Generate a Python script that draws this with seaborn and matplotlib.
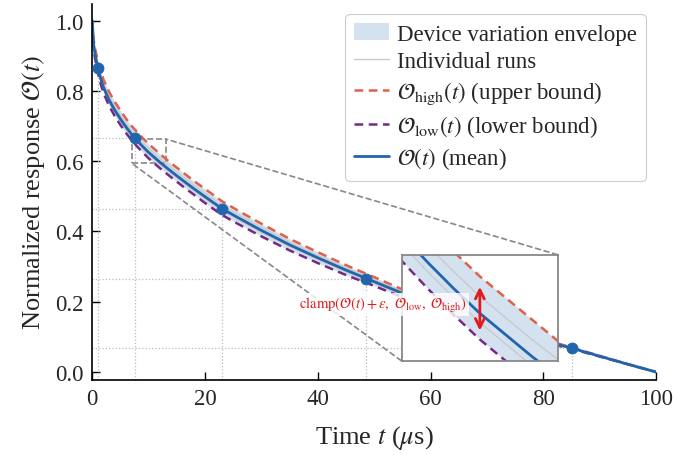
import numpy as np
import pandas as pd
import matplotlib
matplotlib.use("Agg")
import matplotlib.pyplot as plt
import seaborn as sns
from mpl_toolkits.axes_grid1.inset_locator import mark_inset

# ===================== Daten =====================

t_us = [0, 0.25, 0.5, 1, 1.5, 2, 3, 4, 5, 6, 7, 8, 9, 10, 11, 12, 13, 14, 16, 18,
        20, 23, 26, 30, 35, 40, 45, 50, 55, 60, 65, 70, 75, 80, 85, 90, 95, 100]

o_mean = [1.000, 0.933, 0.905, 0.865, 0.835, 0.810, 0.774, 0.745, 0.720, 0.697,
          0.676, 0.658, 0.641, 0.625, 0.611, 0.597, 0.584, 0.571, 0.546, 0.522,
          0.499, 0.465, 0.438, 0.403, 0.362, 0.325, 0.290, 0.257, 0.224, 0.193,
          0.164, 0.137, 0.112, 0.089, 0.068, 0.045, 0.022, 0.000]

o_high = [1.000, 0.945, 0.921, 0.885, 0.856, 0.832, 0.797, 0.769, 0.744, 0.721,
          0.700, 0.682, 0.665, 0.649, 0.635, 0.621, 0.607, 0.594, 0.569, 0.544,
          0.521, 0.486, 0.458, 0.422, 0.379, 0.341, 0.304, 0.270, 0.235, 0.203,
          0.172, 0.144, 0.117, 0.093, 0.070, 0.046, 0.0225, 0.000]

o_low = [0.985, 0.921, 0.892, 0.851, 0.820, 0.794, 0.757, 0.728, 0.703, 0.680,
         0.659, 0.641, 0.624, 0.608, 0.594, 0.580, 0.567, 0.554, 0.529, 0.505,
         0.481, 0.447, 0.420, 0.386, 0.346, 0.310, 0.276, 0.245, 0.213, 0.184,
         0.156, 0.131, 0.107, 0.085, 0.066, 0.044, 0.022, 0.000]

run_a = [1.000, 0.939, 0.913, 0.874, 0.845, 0.820, 0.785, 0.756, 0.731, 0.708,
         0.687, 0.669, 0.652, 0.636, 0.622, 0.608, 0.595, 0.582, 0.556, 0.532,
         0.509, 0.475, 0.447, 0.412, 0.370, 0.332, 0.296, 0.263, 0.229, 0.197,
         0.168, 0.140, 0.114, 0.091, 0.069, 0.0455, 0.022, 0.000]

run_b = [0.995, 0.927, 0.899, 0.860, 0.830, 0.805, 0.768, 0.739, 0.714, 0.691,
         0.670, 0.652, 0.635, 0.619, 0.605, 0.591, 0.578, 0.565, 0.540, 0.516,
         0.493, 0.459, 0.432, 0.397, 0.357, 0.320, 0.285, 0.253, 0.220, 0.190,
         0.161, 0.135, 0.110, 0.088, 0.067, 0.044, 0.022, 0.000]

# markierte Punkte auf der Mittelwertkurve
mark_t = [1, 7.6, 23, 48.5, 85]
mark_o = [0.865, 0.665, 0.465, 0.265, 0.068]

# Zoom-Bereich und Pfeil im Inset
zoom_t = (7.0, 13.0)
zoom_o = (0.594, 0.663)
arrow_t = 10.0
arrow_o = (0.612, 0.644)

# ===================== Stil =====================

sns.set_theme(style="ticks")
plt.rcParams['font.family'] = ['Liberation Serif', 'DejaVu Serif']
plt.rcParams['mathtext.fontset'] = 'stix'
plt.rcParams['xtick.direction'] = 'in'
plt.rcParams['ytick.direction'] = 'in'

c_mean = '#2166ac'
c_high = '#e0604a'
c_low = '#762a83'
c_env = '#c6d8ea'
c_run = '#c8c8c8'

df = pd.DataFrame({'t': t_us, 'mean': o_mean, 'high': o_high, 'low': o_low,
                   'run_a': run_a, 'run_b': run_b})

fig = plt.figure(figsize=(6.73, 4.56), dpi=100)
ax = fig.add_axes([0.137, 0.165, 0.838, 0.824])


def draw_curves(a, with_labels):
    lab = (lambda s: s) if with_labels else (lambda s: None)
    a.fill_between(df['t'], df['low'], df['high'], color=c_env, alpha=0.75,
                   lw=0, label=lab('Device variation envelope'))
    sns.lineplot(data=df, x='t', y='run_a', ax=a, color=c_run, lw=0.9,
                 label=lab('Individual runs'))
    sns.lineplot(data=df, x='t', y='run_b', ax=a, color=c_run, lw=0.9)
    sns.lineplot(data=df, x='t', y='high', ax=a, color=c_high, lw=1.8,
                 linestyle=(0, (3.5, 2.2)),
                 label=lab(r'$\mathcal{O}_{\mathrm{high}}(t)$ (upper bound)'))
    sns.lineplot(data=df, x='t', y='low', ax=a, color=c_low, lw=1.8,
                 linestyle=(0, (3.5, 2.2)),
                 label=lab(r'$\mathcal{O}_{\mathrm{low}}(t)$ (lower bound)'))
    sns.lineplot(data=df, x='t', y='mean', ax=a, color=c_mean, lw=2.0,
                 label=lab(r'$\mathcal{O}(t)$ (mean)'))


ax.set_xlim(0, 100)
ax.set_ylim(-0.022, 1.047)
y0 = ax.get_ylim()[0]

# Hilfslinien von den Markern zu den Achsen
ax.vlines(mark_t, y0, mark_o, colors='#bbbbbb', linestyles=':', lw=0.9, zorder=1)
ax.hlines(mark_o, 0, mark_t, colors='#bbbbbb', linestyles=':', lw=0.9, zorder=1)

draw_curves(ax, True)
sns.scatterplot(x=mark_t, y=mark_o, ax=ax, color=c_mean, s=62,
                edgecolor=c_mean, zorder=5)

ax.set_xticks(np.arange(0, 101, 20))
ax.set_yticks(np.arange(0, 1.01, 0.2))
ax.set_yticklabels([f"{v:.1f}" for v in np.arange(0, 1.01, 0.2)])
ax.tick_params(labelsize=16.5, length=6, width=1, color='black', pad=6)
for s in ['left', 'bottom']:
    ax.spines[s].set_color('black')
    ax.spines[s].set_linewidth(1.2)
sns.despine(ax=ax)
ax.set_xlabel(r'Time $t$ ($\mu$s)', fontsize=19, labelpad=10)
ax.set_ylabel(r'Normalized response $\mathcal{O}(t)$', fontsize=19, labelpad=6)

h, l = ax.get_legend_handles_labels()
leg = ax.legend(h, l, loc='upper right', fontsize=16.5, frameon=True,
                fancybox=True, framealpha=1, edgecolor='#cccccc',
                borderaxespad=0.45, handlelength=1.5, labelspacing=0.3,
                borderpad=0.4, handletextpad=0.35)
leg.get_frame().set_linewidth(0.8)

# ===================== Inset =====================

axins = fig.add_axes([0.597, 0.206, 0.232, 0.233])
draw_curves(axins, False)
axins.set_xlim(*zoom_t)
axins.set_ylim(*zoom_o)
axins.set_xticks([])
axins.set_yticks([])
axins.set_xlabel('')
axins.set_ylabel('')
for s in axins.spines.values():
    s.set_color('#888888')
    s.set_linewidth(1.3)
axins.set_facecolor('white')

axins.annotate('', xy=(arrow_t, arrow_o[1]), xytext=(arrow_t, arrow_o[0]),
               arrowprops=dict(arrowstyle='<->', color='#e31a1c', lw=2,
                               mutation_scale=16))
axins.text(-0.12, 0.53,
           r'$\mathrm{clamp}(\mathcal{O}(t)+\epsilon,\ \mathcal{O}_{\mathrm{low}},\ \mathcal{O}_{\mathrm{high}})$',
           transform=axins.transAxes, ha='center', va='center', fontsize=10.5,
           color='#e31a1c', clip_on=False, zorder=10,
           bbox=dict(boxstyle='square,pad=0.15', fc='white', ec='none', alpha=0.8))

mark_inset(ax, axins, loc1=1, loc2=3, fc='none', ec='#888888', ls='--', lw=1.2)

fig.savefig('out.png', dpi=100)
